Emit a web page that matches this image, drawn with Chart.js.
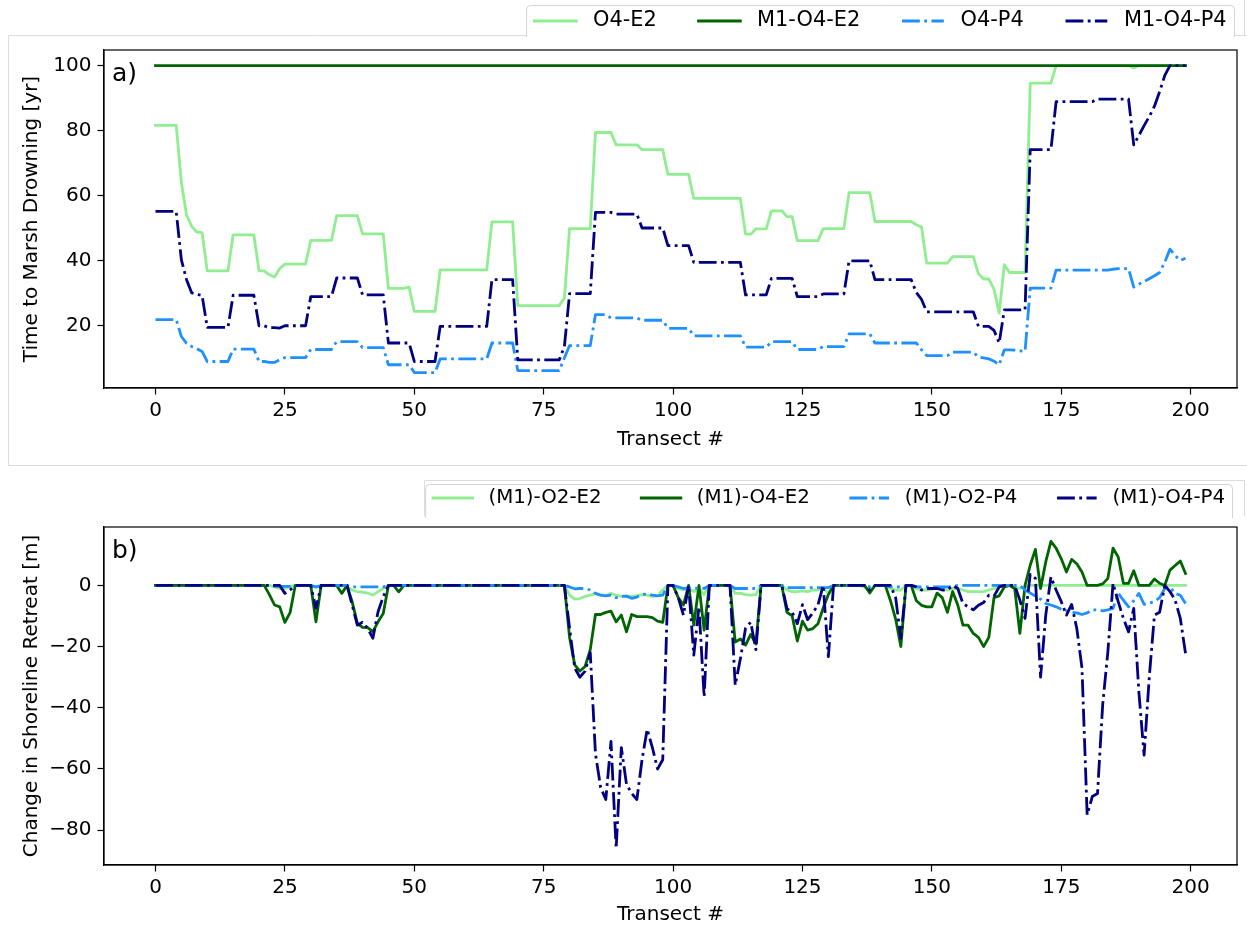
<!DOCTYPE html>
<html>
<head>
<meta charset="utf-8">
<script src="https://cdn.jsdelivr.net/npm/chart.js@4.4.1/dist/chart.umd.min.js"></script>
<style>
  html, body { margin: 0; padding: 0; background: #ffffff; }
  #wrap { position: relative; width: 1247px; height: 928px; overflow: hidden; background: #fff; }
  canvas { position: absolute; left: 0; }
  #drowning { top: 0; }
  #retreat { top: 470px; }
</style>
</head>
<body>
<div id="wrap">
  <canvas id="drowning" width="1247" height="470"></canvas>
  <canvas id="retreat" width="1247" height="458"></canvas>
</div>
<script>
// ---- transect numbers and tick values ----
const transects = Array.from({ length: 200 }, (_, i) => i);
const xTicks = [0, 25, 50, 75, 100, 125, 150, 175, 200];
const drowningTicks = [20, 40, 60, 80, 100];
const retreatTicks = [-80, -60, -40, -20, 0];

const drowningLabels = ['O4-E2', 'M1-O4-E2', 'O4-P4', 'M1-O4-P4'];
const retreatLabels = ['(M1)-O2-E2', '(M1)-O4-E2', '(M1)-O2-P4', '(M1)-O4-P4'];

// ---- a) time to marsh drowning [yr] ----
const drowningO4E2 = [
  81.6, 81.6, 81.6, 81.6, 81.6, 64, 54, 50.5, 48.7, 48.6,
  36.8, 36.8, 36.8, 36.8, 36.8, 47.9, 47.9, 47.9, 47.9, 47.9,
  36.8, 36.8, 35.6, 34.9, 37.5, 38.9, 38.9, 38.9, 38.9, 38.9,
  46.2, 46.2, 46.2, 46.2, 46.2, 53.8, 53.8, 53.8, 53.8, 53.8,
  48.2, 48.2, 48.2, 48.2, 48.2, 31.4, 31.4, 31.4, 31.4, 31.8,
  24.3, 24.3, 24.3, 24.3, 24.3, 37.1, 37.1, 37.1, 37.1, 37.1,
  37.1, 37.1, 37.1, 37.1, 37.1, 51.9, 51.9, 51.9, 51.9, 51.9,
  26.1, 26.1, 26.1, 26.1, 26.1, 26.1, 26.1, 26.1, 26.1, 28.4,
  49.8, 49.8, 49.8, 49.8, 49.8, 79.4, 79.4, 79.4, 79.4, 75.6,
  75.6, 75.6, 75.6, 75.6, 74.1, 74.1, 74.1, 74.1, 74.1, 66.5,
  66.5, 66.5, 66.5, 66.5, 59.1, 59.1, 59.1, 59.1, 59.1, 59.1,
  59.1, 59.1, 59.1, 59.1, 48.1, 48.1, 49.7, 49.7, 49.7, 55.3,
  55.3, 55.3, 53.5, 53.5, 46.1, 46.1, 46.1, 46.1, 46.1, 49.8,
  49.8, 49.8, 49.8, 49.8, 60.9, 60.9, 60.9, 60.9, 60.9, 52,
  52, 52, 52, 52, 52, 52, 52, 51, 50.3, 39.2,
  39.2, 39.2, 39.2, 39.2, 41.2, 41.2, 41.2, 41.2, 41.2, 35.9,
  34.3, 34.3, 31.2, 23.8, 38.7, 36.3, 36.3, 36.3, 36.3, 94.6,
  94.6, 94.6, 94.6, 94.6, 100, 100, 100, 100, 100, 100,
  100, 100, 100, 100, 100, 100, 100, 100, 100, 99.3,
  100, 100, 100, 100, 100, 100, 100, 100, 100, 100
];
const drowningM1O4E2 = [
  100, 100, 100, 100, 100, 100, 100, 100, 100, 100,
  100, 100, 100, 100, 100, 100, 100, 100, 100, 100,
  100, 100, 100, 100, 100, 100, 100, 100, 100, 100,
  100, 100, 100, 100, 100, 100, 100, 100, 100, 100,
  100, 100, 100, 100, 100, 100, 100, 100, 100, 100,
  100, 100, 100, 100, 100, 100, 100, 100, 100, 100,
  100, 100, 100, 100, 100, 100, 100, 100, 100, 100,
  100, 100, 100, 100, 100, 100, 100, 100, 100, 100,
  100, 100, 100, 100, 100, 100, 100, 100, 100, 100,
  100, 100, 100, 100, 100, 100, 100, 100, 100, 100,
  100, 100, 100, 100, 100, 100, 100, 100, 100, 100,
  100, 100, 100, 100, 100, 100, 100, 100, 100, 100,
  100, 100, 100, 100, 100, 100, 100, 100, 100, 100,
  100, 100, 100, 100, 100, 100, 100, 100, 100, 100,
  100, 100, 100, 100, 100, 100, 100, 100, 100, 100,
  100, 100, 100, 100, 100, 100, 100, 100, 100, 100,
  100, 100, 100, 100, 100, 100, 100, 100, 100, 100,
  100, 100, 100, 100, 100, 100, 100, 100, 100, 100,
  100, 100, 100, 100, 100, 100, 100, 100, 100, 100,
  100, 100, 100, 100, 100, 100, 100, 100, 100, 100
];
const drowningO4P4 = [
  21.8, 21.8, 21.8, 21.8, 21.8, 16.6, 14.5, 13.5, 12.8, 12,
  8.9, 8.9, 8.9, 8.9, 8.9, 12.7, 12.7, 12.7, 12.7, 12.7,
  8.9, 8.9, 8.6, 8.6, 9.5, 10.1, 10.1, 10.1, 10.1, 10.1,
  12.6, 12.6, 12.6, 12.6, 12.6, 15, 15, 15, 15, 15,
  13.2, 13.2, 13.2, 13.2, 13.2, 7.9, 7.9, 7.9, 7.9, 7.9,
  5.5, 5.5, 5.5, 5.5, 5.5, 9.7, 9.7, 9.7, 9.7, 9.7,
  9.7, 9.7, 9.7, 9.7, 9.7, 14.6, 14.6, 14.6, 14.6, 14.6,
  6.1, 6.1, 6.1, 6.1, 6.1, 6.1, 6.1, 6.1, 6.1, 10,
  13.8, 13.8, 13.8, 13.8, 13.8, 23.3, 23.3, 23.3, 22.3, 22.3,
  22.3, 22.3, 22.3, 22.3, 21.6, 21.6, 21.6, 21.6, 21.6, 19.1,
  19.1, 19.1, 19.1, 19.1, 16.8, 16.8, 16.8, 16.8, 16.8, 16.8,
  16.8, 16.8, 16.8, 16.8, 13.3, 13.3, 13.3, 13.3, 13.3, 15,
  15, 15, 15, 15, 12.6, 12.6, 12.6, 12.6, 12.6, 13.5,
  13.5, 13.5, 13.5, 13.5, 17.4, 17.4, 17.4, 17.4, 17.4, 14.6,
  14.6, 14.6, 14.6, 14.6, 14.6, 14.6, 14.6, 14.6, 12.5, 10.7,
  10.7, 10.7, 10.7, 10.7, 11.8, 11.8, 11.8, 11.8, 11.8, 10.3,
  10, 9.7, 9, 7.9, 12.5, 12.5, 12.4, 12.2, 12, 31.5,
  31.5, 31.5, 31.5, 31.5, 37, 37, 37, 37, 37, 37,
  37, 37, 37, 37, 37, 37.3, 37.5, 37.5, 37.5, 31.8,
  32.7, 33.5, 34.4, 35.3, 36.3, 39.5, 43.5, 41.5, 40, 40.7
];
const drowningM1O4P4 = [
  55.1, 55.1, 55.1, 55.1, 55.1, 40.2, 34.1, 30, 29.6, 29.2,
  19.4, 19.4, 19.4, 19.4, 19.4, 29.3, 29.3, 29.3, 29.3, 29.3,
  19.9, 19.9, 19.3, 19.3, 19.2, 19.9, 19.9, 19.9, 19.9, 19.9,
  28.9, 28.9, 28.9, 28.9, 28.9, 34.6, 34.6, 34.6, 34.6, 34.6,
  29.4, 29.4, 29.4, 29.4, 29.4, 14.6, 14.6, 14.6, 14.6, 14.6,
  8.9, 8.9, 8.9, 8.9, 8.9, 19.7, 19.7, 19.7, 19.7, 19.7,
  19.7, 19.7, 19.7, 19.7, 19.7, 34.1, 34.1, 34.1, 34.1, 34.1,
  9.4, 9.4, 9.4, 9.4, 9.4, 9.4, 9.4, 9.4, 9.4, 13.5,
  29.8, 29.8, 29.8, 29.8, 29.8, 54.8, 54.8, 54.8, 54.8, 54.3,
  54.3, 54.3, 54.3, 54.3, 50, 50, 50, 50, 50, 44.6,
  44.6, 44.6, 44.6, 44.6, 39.4, 39.4, 39.4, 39.4, 39.4, 39.4,
  39.4, 39.4, 39.4, 39.4, 29.4, 29.4, 29.4, 29.4, 29.4, 34.5,
  34.5, 34.5, 34.5, 34.5, 28.9, 28.9, 28.9, 28.9, 28.9, 29.7,
  29.7, 29.7, 29.7, 29.7, 39.9, 39.9, 39.9, 39.9, 39.9, 34.1,
  34.1, 34.1, 34.1, 34.1, 34.1, 34.1, 34.1, 30.1, 28, 24.2,
  24.2, 24.2, 24.2, 24.2, 24.2, 24.2, 24.2, 24.2, 24.2, 19.7,
  19.7, 19.7, 18.5, 14.6, 24.8, 24.8, 24.8, 24.8, 24.8, 74.1,
  74.1, 74.1, 74.1, 74.1, 88.9, 88.9, 88.9, 88.9, 88.9, 88.9,
  88.9, 88.9, 89.7, 89.7, 89.7, 89.7, 89.7, 89.7, 89.7, 75.6,
  78.5, 81.5, 84.3, 87.5, 92, 97, 100, 100, 100, 100
];

// ---- b) change in shoreline retreat [m] ----
const retreatO2E2 = [
  0, 0, 0, 0, 0, 0, 0, 0, 0, 0,
  0, 0, 0, 0, 0, 0, 0, 0, 0, 0,
  0, 0, 0, -0.5, -1, -1, -0.5, 0, 0, 0,
  0, -0.7, 0, 0, 0, 0, 0, -0.5, -1.5, -2,
  -2.2, -2.5, -3.2, -2, -1, 0, 0, 0, 0, 0,
  0, 0, 0, 0, 0, 0, 0, 0, 0, 0,
  0, 0, 0, 0, 0, 0, 0, 0, 0, 0,
  0, 0, 0, 0, 0, 0, 0, 0, 0, 0,
  -3.2, -4.5, -4.3, -3.6, -3.2, -2.6, -3.2, -3.2, -2.6, -3.2,
  -3.6, -3.4, -3.6, -3.3, -3, -3.2, -3.6, -3.4, -1.5, 0,
  0, -1, -1.5, -1, -2, -1, -3, 0, 0, 0,
  0, 0, -2.6, -2.5, -3, -3.2, -3, 0, 0, 0,
  0, 0, -1.5, -2, -2, -1.8, -2, -1.5, -1.5, -1,
  -2.5, 0, 0, 0, 0, 0, 0, -0.5, -1.5, 0,
  0, 0, -1, -1.5, -1.5, 0, 0, -1, -1.5, -1.5,
  -1.2, -1, -1.2, -1.5, -1, -1, -1.5, -2, -2, -2,
  -2, -1.5, -1, -0.5, 0, 0, -0.5, -1, -0.5, 0,
  0, 0, 0, 0, 0, 0, 0, 0, 0, 0,
  0, 0, 0, 0, 0, 0, 0, 0, 0, 0,
  0, 0, 0, 0, 0, 0, 0, 0, 0, 0
];
const retreatO4E2 = [
  0, 0, 0, 0, 0, 0, 0, 0, 0, 0,
  0, 0, 0, 0, 0, 0, 0, 0, 0, 0,
  0, 0, -3, -6.4, -7, -12.1, -8.9, 0, 0, 0,
  0, -11.9, 0, 0, 0, 0, -2.6, 0, -5.4, -12.4,
  -13.7, -13.8, -15.1, -11.9, -9.2, 0, 0, -2.1, 0, 0,
  0, 0, 0, 0, 0, 0, 0, 0, 0, 0,
  0, 0, 0, 0, 0, 0, 0, 0, 0, 0,
  0, 0, 0, 0, 0, 0, 0, 0, 0, 0,
  -17, -26, -28, -26.5, -21, -9.5, -9.5, -8.8, -8.4, -11.9,
  -9.7, -15.2, -9.5, -10.2, -10.2, -10.2, -10.5, -11.7, -12.1, 0,
  0, -4, -6.4, 0, -13, 0, -14.6, 0, 0, 0,
  0, 0, -18.5, -17.5, -19.5, -16, -19.2, 0, 0, 0,
  0, 0, -8.8, -9.9, -18.2, -11.7, -14.6, -14.1, -12.5, -7.4,
  -3, 0, 0, 0, 0, 0, 0, 0, -2.5, 0,
  0, 0, -5, -11, -20, 0, 0, -5, -6.5, -7,
  -7, -2.5, -4, -8.8, -2, -6.4, -13, -13, -15.7, -17,
  -20, -17, -4, -3.4, -0.5, 0, -1, -15.7, 0, 6.6,
  11.8, -1, 7.7, 14.4, 12.2, 8.7, 4.4, 8.5, 7.1, 4.4,
  0, 0, 0, 0.5, 2.3, 12.2, 9.3, 0.7, 0.7, 4.8,
  0, 0, 0, 2.1, 0.7, 0, 5, 6.5, 8, 3.9
];
const retreatO2P4 = [
  0, 0, 0, 0, 0, 0, 0, 0, 0, 0,
  0, 0, 0, 0, 0, 0, 0, 0, 0, 0,
  0, 0, 0, -0.3, -0.3, -0.3, -0.3, 0, 0, 0,
  0, -0.5, 0, 0, 0, 0, 0, 0, -0.5, -0.5,
  -0.5, -0.5, -0.5, -0.5, -0.5, 0, 0, 0, 0, 0,
  0, 0, 0, 0, 0, 0, 0, 0, 0, 0,
  0, 0, 0, 0, 0, 0, 0, 0, 0, 0,
  0, 0, 0, 0, 0, 0, 0, 0, 0, 0,
  -0.5, -1.1, -1, -1, -1.5, -2.6, -3.2, -3.4, -3.2, -4,
  -3.6, -3.5, -4.2, -3.8, -3, -2.8, -3.2, -3.4, -3.2, 0,
  0, -0.5, -1, -0.8, -1, -0.8, -1, 0, 0, 0,
  0, 0, -1, -1, -1, -1, -1, 0, 0, 0,
  0, 0, -0.7, -0.7, -0.7, -0.7, -0.7, -0.7, -0.7, -0.7,
  -0.7, 0, 0, 0, 0, 0, 0, 0, -0.5, 0,
  0, 0, -0.5, -0.5, -0.5, 0, 0, -0.5, -0.5, -0.5,
  -0.5, -0.5, -0.5, -0.5, -0.5, 0, 0, 0, 0, 0,
  0, 0, 0, 0, 0, 0, 0, 0, -1.5, -2.5,
  -3.5, -4.5, -5.9, -6.4, -7, -7.8, -8.3, -8.8, -9, -9.5,
  -9, -8, -8, -8.3, -8, -7.5, -2.6, -4.8, -7, -5,
  -2.6, -6.2, -5.8, -5.3, -4, -1, -0.5, -2.6, -3.2, -5.9
];
const retreatO4P4 = [
  0, 0, 0, 0, 0, 0, 0, 0, 0, 0,
  0, 0, 0, 0, 0, 0, 0, 0, 0, 0,
  0, 0, 0, 0, 0, -2.6, -1.5, 0, 0, 0,
  0, -7.5, 0, 0, 0, 0, 0, 0, -6.4, -13,
  -12, -14, -17.3, -8.6, -3.7, 0, 0, 0, 0, 0,
  0, 0, 0, 0, 0, 0, 0, 0, 0, 0,
  0, 0, 0, 0, 0, 0, 0, 0, 0, 0,
  0, 0, 0, 0, 0, 0, 0, 0, 0, 0,
  -14, -27, -30, -28, -22, -55, -66, -70, -51, -86,
  -53, -65, -68, -70, -57, -47, -53, -60, -57, 0,
  0, -4, -9.7, 0, -22.8, -7, -36.4, 0, 0, 0,
  0, 0, -32.6, -24, -14, -12, -21, 0, 0, 0,
  0, 0, -7.6, -8.7, -12.5, -6.3, -11.2, -9, -6.3, 0,
  -23.3, 0, 0, 0, 0, 0, 0, 0, -1.5, 0,
  0, 0, 0, -4, -17.3, 0, 0, -0.5, -1.5, -1,
  -1, -1, -1.5, -1.5, 0, -1, -5.9, -7, -8, -6.5,
  -5.6, -3.2, -3.5, -0.5, 0, 0, 0, -4.8, -10.8, 3.6,
  2.3, -30, -9.7, 2.8, -1.5, -5.3, -9.7, -6.2, -14.1, -27,
  -75, -69, -68, -39, -21.7, 0.7, -5.3, -10.8, -15.2, -7.5,
  -35, -55.5, -30, -9.7, -8.8, 0, -2, -4.8, -10.8, -22.2
];

// ---- styling ----
const FONT = '"DejaVu Sans", "Liberation Sans", sans-serif';
const LW = 2.8;
const DASH_DOT = [17.8, 4.4, 2.8, 4.4];
const COLORS = { light: '#90ee90', dark: '#006400', blue: '#1e90ff', navy: '#000080' };

function series(label, values, color, dashed, order) {
  return {
    label,
    data: values.map((v, i) => ({ x: transects[i], y: v })),
    borderColor: color,
    backgroundColor: color,
    borderWidth: LW,
    borderDash: dashed ? DASH_DOT : [],
    borderCapStyle: dashed ? 'butt' : 'square',
    borderJoinStyle: 'round',
    pointRadius: 0,
    pointHoverRadius: 0,
    tension: 0,
    fill: false,
    order
  };
}

const minusLabel = v => (v < 0 ? '\u2212' + Math.abs(v) : String(v));

// faint grey frame lines of the figure backgrounds
const pageFrame = {
  id: 'pageFrame',
  beforeDraw(chart, args, opts) {
    if (!opts || !opts.lines) return;
    const ctx = chart.ctx;
    ctx.save();
    ctx.strokeStyle = '#dcdcdc';
    ctx.lineWidth = 1;
    opts.lines.forEach(pts => {
      ctx.beginPath();
      pts.forEach((p, i) => (i ? ctx.lineTo(p[0], p[1]) : ctx.moveTo(p[0], p[1])));
      ctx.stroke();
    });
    ctx.restore();
  }
};

// axes box drawn over the lines, plus panel letter
const axesBox = {
  id: 'axesBox',
  afterDatasetsDraw(chart, args, opts) {
    const { ctx, chartArea: a } = chart;
    ctx.save();
    ctx.strokeStyle = '#000';
    ctx.lineWidth = 1.2;
    ctx.strokeRect(a.left, a.top, a.right - a.left, a.bottom - a.top);
    ctx.fillStyle = '#000';
    ctx.font = '25px ' + FONT;
    ctx.textBaseline = 'alphabetic';
    ctx.textAlign = 'left';
    ctx.fillText(opts.letter, a.left + 8, a.top + 31);
    ctx.restore();
  }
};

// framed legend row above the axes
const legendRow = {
  id: 'legendRow',
  afterDraw(chart, args, opts) {
    const ctx = chart.ctx;
    const f = opts.fontSize;
    ctx.save();
    ctx.font = f + 'px ' + FONT;
    const items = chart.data.datasets.map(ds => ({
      text: ds.label, color: ds.borderColor, dash: ds.borderDash, cap: ds.borderCapStyle
    }));
    const pad = 0.4 * f, handle = 2 * f, gap = 0.8 * f, colGap = 2 * f;
    let width = 2 * pad;
    items.forEach((it, i) => {
      it.w = ctx.measureText(it.text).width;
      width += handle + gap + it.w + (i ? colGap : 0);
    });
    const right = opts.right, left = right - width, top = opts.top, bottom = opts.bottom, r = 4;
    ctx.fillStyle = '#ffffff';
    ctx.fillRect(left, top, width, bottom - top + 2);
    ctx.strokeStyle = '#d4d4d4';
    ctx.lineWidth = 1;
    ctx.beginPath();
    ctx.moveTo(left + 0.5, bottom + 2);
    ctx.lineTo(left + 0.5, top + r);
    ctx.arcTo(left + 0.5, top + 0.5, left + r, top + 0.5, r);
    ctx.lineTo(right - r, top + 0.5);
    ctx.arcTo(right - 0.5, top + 0.5, right - 0.5, top + r, r);
    ctx.lineTo(right - 0.5, bottom + 2);
    ctx.stroke();
    let x = left + pad;
    const y = opts.rowY;
    items.forEach((it, i) => {
      if (i) x += colGap;
      ctx.save();
      ctx.strokeStyle = it.color;
      ctx.lineWidth = LW;
      ctx.setLineDash(it.dash || []);
      ctx.lineCap = it.cap;
      ctx.beginPath();
      ctx.moveTo(x, y);
      ctx.lineTo(x + handle, y);
      ctx.stroke();
      ctx.restore();
      x += handle + gap;
      ctx.fillStyle = '#000';
      ctx.textBaseline = 'middle';
      ctx.textAlign = 'left';
      ctx.fillText(it.text, x, y);
      x += it.w;
    });
    ctx.restore();
  }
};

function panel(canvasId, cfg) {
  return new Chart(document.getElementById(canvasId), {
    type: 'line',
    data: { datasets: cfg.datasets },
    plugins: [pageFrame, axesBox, legendRow],
    options: {
      responsive: false,
      animation: false,
      devicePixelRatio: 1,
      events: [],
      layout: { padding: { left: 10, right: 10, top: cfg.areaTop, bottom: 0 } },
      plugins: {
        legend: { display: false },
        tooltip: { enabled: false },
        pageFrame: { lines: cfg.frameLines },
        axesBox: { letter: cfg.letter },
        legendRow: cfg.legend
      },
      scales: {
        x: {
          type: 'linear',
          min: -9.95,
          max: 208.95,
          afterBuildTicks: s => { s.ticks = xTicks.map(v => ({ value: v })); },
          afterFit: s => { s.height = cfg.xHeight; },
          grid: { display: true, drawOnChartArea: false, drawTicks: true, tickLength: 6.5, tickWidth: 1.2, tickColor: '#000' },
          border: { display: true, color: '#000', width: 1.2 },
          ticks: { color: '#000', font: { family: FONT, size: 20 }, padding: 4, maxRotation: 0, autoSkip: false, callback: minusLabel },
          title: { display: true, text: 'Transect #', color: '#000', font: { family: FONT, size: 20 }, padding: { top: 0, bottom: cfg.xTitlePad } }
        },
        y: {
          type: 'linear',
          min: cfg.yMin,
          max: cfg.yMax,
          afterBuildTicks: s => { s.ticks = cfg.yTicks.map(v => ({ value: v })); },
          afterFit: s => { s.width = 94; },
          grid: { display: true, drawOnChartArea: false, drawTicks: true, tickLength: 6.5, tickWidth: 1.2, tickColor: '#000' },
          border: { display: true, color: '#000', width: 1.2 },
          ticks: { color: '#000', font: { family: FONT, size: 20 }, padding: 6, autoSkip: false, callback: minusLabel },
          title: { display: true, text: cfg.yTitle, color: '#000', font: { family: FONT, size: 20 }, padding: { top: 10, bottom: 0 } }
        }
      }
    }
  });
}

panel('drowning', {
  letter: 'a)',
  frameLines: [
    [[1247, 35.5], [8.5, 35.5], [8.5, 465.5], [1247, 465.5]],
    [[1244.5, 0], [1244.5, 36]]
  ],
  areaTop: 50,
  xHeight: 82,
  xTitlePad: 18,
  yMin: 0.74,
  yMax: 104.8,
  yTicks: drowningTicks,
  yTitle: 'Time to Marsh Drowning [yr]',
  legend: { right: 1235, top: 5, bottom: 35, rowY: 21, fontSize: 20.9 },
  datasets: [
    series(drowningLabels[0], drowningO4E2, COLORS.light, false, 3),
    series(drowningLabels[1], drowningM1O4E2, COLORS.dark, false, 2),
    series(drowningLabels[2], drowningO4P4, COLORS.blue, true, 1),
    series(drowningLabels[3], drowningM1O4P4, COLORS.navy, true, 0)
  ]
});

panel('retreat', {
  letter: 'b)',
  frameLines: [
    [[424.5, 46], [424.5, 10.5], [1244.5, 10.5], [1244.5, 46]]
  ],
  areaTop: 57,
  xHeight: 63,
  xTitlePad: 1,
  yMin: -91.4,
  yMax: 19.1,
  yTicks: retreatTicks,
  yTitle: 'Change in Shoreline Retreat [m]',
  legend: { right: 1233, top: 14, bottom: 46, rowY: 28, fontSize: 19.8 },
  datasets: [
    series(retreatLabels[0], retreatO2E2, COLORS.light, false, 3),
    series(retreatLabels[1], retreatO4E2, COLORS.dark, false, 2),
    series(retreatLabels[2], retreatO2P4, COLORS.blue, true, 1),
    series(retreatLabels[3], retreatO4P4, COLORS.navy, true, 0)
  ]
});
</script>
</body>
</html>
